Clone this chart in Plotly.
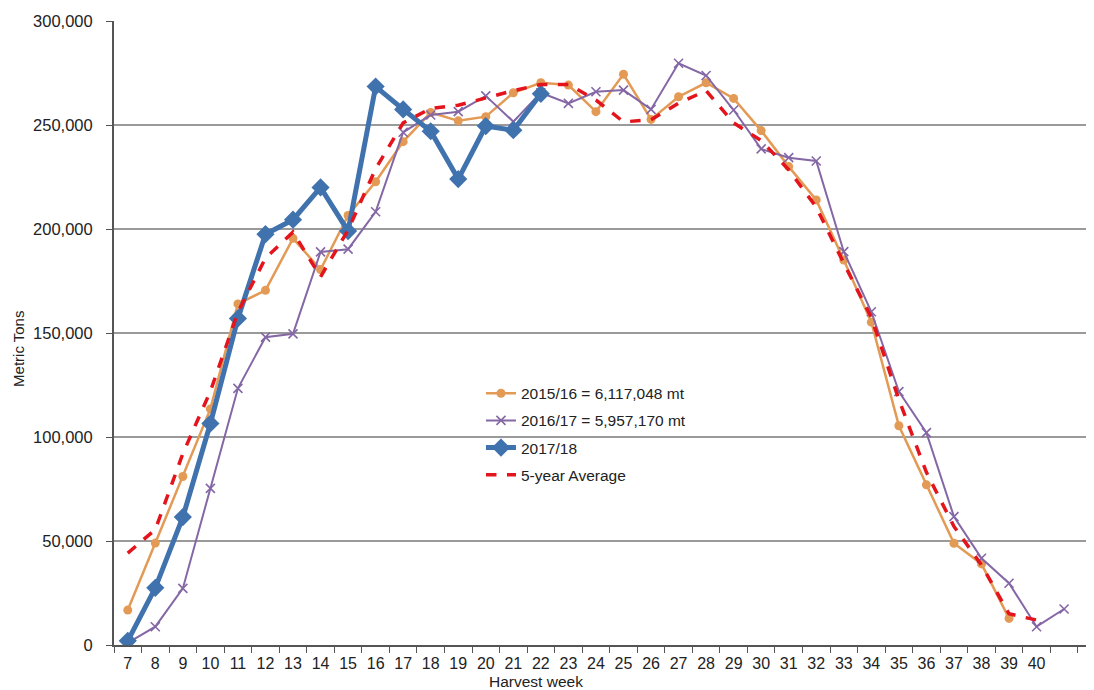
import plotly.graph_objects as go

# harvest weeks (41 is the unlabeled slot after 40)
weeks = list(range(7, 42))
week_labels = [str(w) for w in range(7, 41)]

wk_1516 = list(range(7, 40))
tons_1516 = [16800, 49000, 81000, 113500, 164000, 170500, 195500, 180500, 206500, 222700,
             242000, 256000, 252000, 254000, 265500, 270300, 269200, 256400, 274400, 252700,
             263600, 270300, 262800, 247300, 230000, 214000, 185100, 155200, 105400, 77000,
             48900, 39000, 12800]

wk_1617 = list(range(7, 42))
tons_1617 = [1000, 8800, 27200, 75300, 123400, 148000, 149600, 189000, 190300, 208300,
             246500, 254800, 256400, 264000, 251600, 265500, 260400, 266000, 266800, 257500,
             279700, 273800, 257200, 238500, 234300, 232700, 189100, 160200, 121800, 102100,
             61700, 41700, 29700, 8800, 17300]

wk_1718 = list(range(7, 23))
tons_1718 = [2000, 27500, 61500, 106500, 157000, 197500, 204500, 220000, 199000, 268500,
             257500, 247000, 224000, 249500, 247500, 265000]

wk_avg = list(range(7, 41))
tons_avg = [44200, 55500, 92000, 122000, 160000, 186000, 198500, 177000, 199500, 229000,
            251000, 258000, 259500, 263000, 266500, 269500, 269500, 262000, 251500, 252500,
            260500, 266500, 251000, 242500, 228500, 210500, 183500, 157500, 118000, 83000,
            57000, 38500, 15000, 12000]

FONT = "Liberation Sans, Arial, sans-serif"

fig = go.Figure()
fig.add_trace(go.Scatter(x=wk_1516, y=tons_1516, name="2015/16 = 6,117,048 mt",
                         mode="lines+markers", legendgroup="a",
                         line=dict(color="#E39A55", width=2.5),
                         marker=dict(symbol="circle", size=9, color="#E39A55")))
fig.add_trace(go.Scatter(x=wk_1617, y=tons_1617, name="2016/17 = 5,957,170 mt",
                         mode="lines+markers", legendgroup="b",
                         line=dict(color="#8467A5", width=2),
                         marker=dict(symbol="x-thin", size=9,
                                     line=dict(color="#8467A5", width=1.6))))
fig.add_trace(go.Scatter(x=wk_1718, y=tons_1718, name="2017/18",
                         mode="lines+markers", legendgroup="c",
                         line=dict(color="#4072AE", width=5),
                         marker=dict(symbol="diamond", size=14, color="#4072AE")))
fig.add_trace(go.Scatter(x=wk_avg, y=tons_avg, name="5-year Average",
                         mode="lines", legendgroup="d",
                         line=dict(color="#E3141C", width=3.5, dash="dash")))

# page body adds ~8px offset, so the figure is sized 8px smaller
fig.update_layout(
    width=1086, height=682,
    margin=dict(l=106, r=4, t=13, b=45),
    plot_bgcolor="white", paper_bgcolor="white",
    font=dict(family=FONT, size=16, color="#222222"),
    showlegend=True,
    legend=dict(x=0.376, y=0.430, xanchor="left", yanchor="top",
                bgcolor="rgba(0,0,0,0)", font=dict(size=15.5), tracegroupgap=4),
)

fig.update_xaxes(range=[6.5, 41.94], tickmode="array", tickvals=list(range(7, 41)),
                 ticktext=week_labels, ticks="", showgrid=False, zeroline=False,
                 showline=True, linecolor="#555555", linewidth=2, automargin=False,
                 minor=dict(tickmode="linear", tick0=6.5, dtick=1, ticks="outside",
                            ticklen=6, tickcolor="#555555", showgrid=False),
                 ticklabelstandoff=3)
fig.update_yaxes(range=[0, 300000], dtick=50000, tickformat=",", ticks="outside",
                 ticklen=6, tickcolor="#555555", showgrid=True, gridcolor="#9a9a9a",
                 gridwidth=1.5, zeroline=False, showline=True, linecolor="#555555",
                 linewidth=2, automargin=False, ticklabelstandoff=10,
                 tickfont=dict(size=16.5))

fig.add_annotation(text="Harvest week", xref="paper", yref="paper", x=0.432, y=-0.059,
                   xanchor="center", yanchor="middle", showarrow=False,
                   font=dict(size=15.5))
fig.add_annotation(text="Metric Tons", xref="paper", yref="paper", x=-0.098, y=0.475,
                   xanchor="center", yanchor="middle", textangle=-90, showarrow=False,
                   font=dict(size=15))

fig.write_html("out.html")
